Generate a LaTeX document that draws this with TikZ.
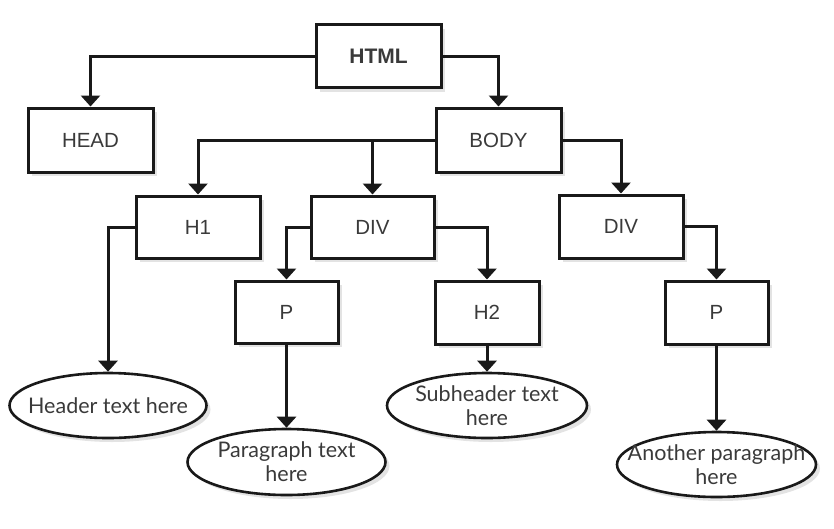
\documentclass[tikz,border=0pt]{standalone}
\usepackage{fontspec}
\setmainfont{Liberation Sans}
\newfontfamily\ellfont{Lato}
\usetikzlibrary{arrows.meta,shadows,shapes.geometric}
\definecolor{txt}{HTML}{3A3A3A}
\tikzset{
  box/.style={draw=black!90, line width=3pt, fill=white, rectangle, inner sep=0pt,
    text=txt, font=\fontsize{20.5}{24}\selectfont,
    drop shadow={opacity=0.22, shadow xshift=4pt, shadow yshift=-4pt}},
  leaf/.style={draw=black!90, line width=2.6pt, fill=white, ellipse, inner sep=0pt,
    minimum width=198pt, minimum height=65pt,
    drop shadow={opacity=0.22, shadow xshift=4pt, shadow yshift=-4pt}},
  leaftext/.style={text=txt, align=center, inner sep=0pt,
    font=\ellfont\fontsize{21.5}{24}\selectfont},
  conn/.style={draw=black!90, line width=3pt, -{Triangle[width=19pt,length=11pt]}},
}
\begin{document}
\begin{tikzpicture}[x=1pt,y=-1pt]
\useasboundingbox (0,0) rectangle (834,528);
\node[box, minimum width=125pt, minimum height=63pt, font=\bfseries\fontsize{21}{24}\selectfont] (html) at (378.5,56) {HTML};
\node[box, minimum width=125pt, minimum height=64pt] (head) at (90.5,140) {HEAD};
\node[box, minimum width=125pt, minimum height=64pt] (body) at (498.5,140) {BODY};
\node[box, minimum width=124pt, minimum height=62pt] (h1) at (198,227) {H1};
\node[box, minimum width=123pt, minimum height=62pt] (div1) at (372.5,227) {DIV};
\node[box, minimum width=124pt, minimum height=63pt] (div2) at (621,226.5) {DIV};
\node[box, minimum width=103pt, minimum height=62pt] (p1) at (286.5,312) {P};
\node[box, minimum width=104pt, minimum height=63pt] (h2) at (487,312.5) {H2};
\node[box, minimum width=103pt, minimum height=63pt] (p2) at (716.5,312.5) {P};
\node[leaf, minimum width=197pt] (e1) at (108,405.5) {};
\node[leaf, minimum height=66pt] (e2) at (286.5,462) {};
\node[leaf, minimum width=200pt] (e3) at (487,405.5) {};
\node[leaf, minimum width=199pt] (e4) at (716.5,464.5) {};
\node[leaftext] (t1) at (e1) {Header text here};
\node[leaftext] (t2) at (e2) {Paragraph text\\here};
\node[leaftext] (t3) at (e3) {Subheader text\\here};
\node[leaftext] (t4) at (e4) {Another paragraph\\here};
\draw[conn] (html.west) -| (head.north);
\draw[conn] (html.east) -| (body.north);
\draw[conn] (body.west) -| (h1.north);
\draw[conn] (body.west -| div1.north) -- (div1.north);
\draw[conn] (body.east) -| (div2.north);
\draw[conn] (h1.west) -| (e1.north);
\draw[conn] (div1.west) -| (p1.north);
\draw[conn] (div1.east) -| (h2.north);
\draw[conn] (div2.east) -| (p2.north);
\draw[conn] (p1.south) -- (e2.north);
\draw[conn] (h2.south) -- (e3.north);
\draw[conn] (p2.south) -- (e4.north);
\end{tikzpicture}
\end{document}
